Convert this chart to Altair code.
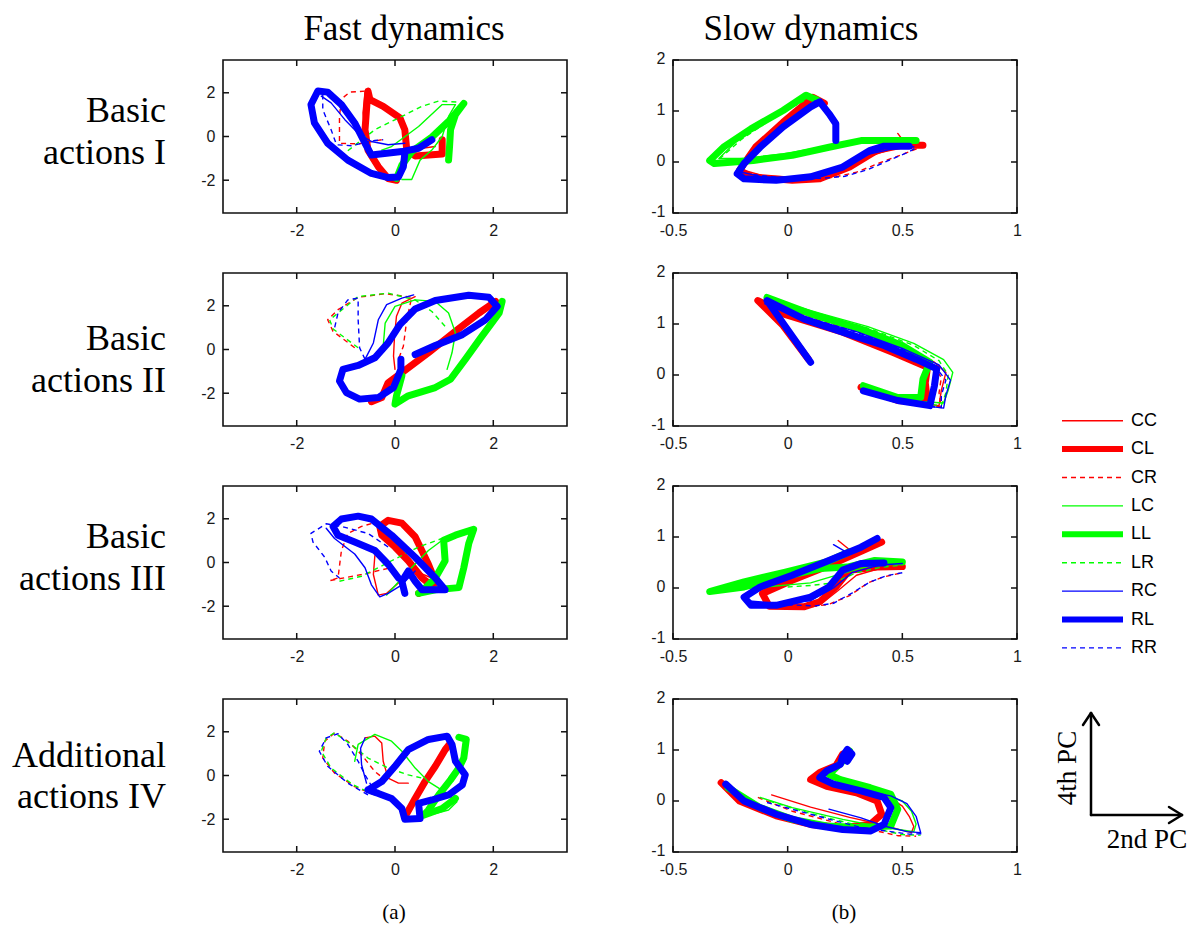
import altair as alt
import pandas as pd

SERIES = ["CC", "CL", "CR", "LC", "LL", "LR", "RC", "RL", "RR"]

# ---------------- Fast dynamics (2nd PC vs 4th PC) ----------------
f1_CC = [(-0.61, 2.03), (-0.65, 1.08), (-0.61, 0.0), (-0.48, -1.08), (-0.24, -1.85), (0.0, -1.97), (0.14, -1.54), (0.27, -0.62), (0.82, -0.46)]
f1_CL = [(0.96, -0.15), (0.96, -0.80), (0.41, -0.89), (0.24, -0.62), (0.20, 0.31), (0.10, 0.85), (-0.24, 1.38), (-0.51, 1.69), (-0.55, 2.08), (-0.58, 1.23), (-0.61, 0.31), (-0.55, -0.62), (-0.34, -1.38), (-0.14, -1.92), (0.03, -2.0)]
f1_CR = [(-0.27, -0.15), (-0.75, -0.34), (-1.13, -0.31), (-1.13, 0.92), (-1.09, 1.72), (-0.92, 2.03), (-0.58, 2.08)]
f1_LC = [(0.14, -1.97), (0.34, -1.97), (0.51, -1.08), (0.75, -0.62), (0.96, 0.0), (1.09, 0.92), (1.23, 1.46), (0.96, 1.46), (0.48, 0.46), (-0.07, -0.46), (-0.27, -0.62)]
f1_LL = [(0.03, -1.92), (0.14, -1.31), (0.34, -0.69), (0.75, -0.03), (1.09, 0.69), (1.40, 1.51), (1.23, 1.0), (1.13, 0.31), (1.11, -0.46), (1.09, -1.08)]
f1_LR = [(-0.96, -0.65), (-0.41, 0.31), (0.14, 0.92), (0.55, 1.38), (0.89, 1.62), (1.30, 1.57)]
f1_RC = [(-1.50, 1.85), (-1.30, 1.54), (-1.02, 0.77), (-0.75, 0.15), (-0.48, -0.23), (-0.14, -0.38), (0.20, -0.31)]
f1_RL = [(0.75, -0.15), (0.48, -0.54), (0.14, -0.69), (-0.48, -0.85), (-0.61, -0.31), (-0.82, 0.62), (-1.09, 1.46), (-1.37, 2.03), (-1.57, 2.08), (-1.71, 1.46), (-1.64, 0.62), (-1.37, -0.31), (-0.96, -1.08), (-0.48, -1.69), (-0.14, -1.88), (0.07, -1.85), (0.17, -1.38), (0.20, -0.77)]
f1_RR = [(-1.47, 1.92), (-1.47, 1.23), (-1.30, 0.31), (-1.19, -0.38), (-0.89, -0.42), (-0.41, -0.18), (-0.24, -0.15)]

f2_CC = [(0.41, 2.42), (0.14, 2.12), (0.03, 1.52), (-0.01, 0.61), (-0.03, -0.30), (0.0, -0.91)]
f2_CL = [(-0.48, -2.39), (-0.27, -2.2), (-0.14, -1.52), (0.14, -1.06), (0.68, -0.15), (1.23, 0.83), (1.71, 1.67), (2.05, 2.2)]
f2_CR = [(-0.82, 0.08), (-1.26, 0.83), (-1.37, 1.36), (-1.16, 1.82), (-0.75, 2.39), (-0.20, 2.55), (0.34, 2.39), (0.24, 1.36), (0.17, 0.15), (0.07, -0.45)]
f2_LC = [(-0.24, 0.15), (-0.20, 1.21), (0.0, 1.97), (0.41, 2.27), (0.82, 2.2), (1.09, 1.67), (1.23, 0.76), (1.16, -0.15), (1.06, -0.91)]
f2_LL = [(0.14, -1.21), (0.03, -2.12), (0.0, -2.5), (0.27, -2.12), (0.82, -1.74), (1.13, -1.36), (1.43, -0.45), (1.77, 0.61), (2.12, 1.67), (2.18, 2.2)]
f2_LR = [(-0.75, 0.08), (-1.26, 0.94), (-1.33, 1.36), (-0.75, 2.42), (-0.14, 2.58), (0.41, 2.27), (0.75, 1.74), (1.02, 1.06)]
f2_RC = [(-0.61, -0.45), (-0.44, 0.30), (-0.34, 1.36), (-0.17, 2.05), (0.14, 2.35), (0.38, 2.5)]
f2_RL = [(0.41, -0.23), (0.82, 0.18), (1.37, 0.68), (1.84, 1.36), (2.08, 1.97), (1.91, 2.39), (1.50, 2.48), (0.82, 2.24), (0.41, 1.85), (0.10, 1.14), (-0.14, 0.30), (-0.41, -0.38), (-0.75, -0.73), (-1.06, -0.91), (-1.13, -1.44), (-0.99, -1.97), (-0.72, -2.27), (-0.34, -2.20), (-0.03, -1.74), (0.12, -0.91), (0.12, -0.45)]
f2_RR = [(-0.61, -0.45), (-0.72, 0.08), (-0.75, 1.36), (-0.75, 2.35), (-0.96, 2.27), (-1.16, 1.67), (-1.23, 0.98)]

f3_CC = [(-0.41, 0.31), (-0.44, -0.55), (-0.34, -1.49), (-0.17, -1.41), (0.07, -0.94), (0.41, -0.39), (0.75, -0.71)]
f3_CL = [(0.48, -1.41), (0.82, -0.86), (0.68, -0.08), (0.41, 1.18), (0.14, 1.80), (-0.14, 1.93), (-0.31, 1.65), (-0.27, 1.25), (0.0, 0.71), (0.27, 0.08), (0.55, -0.71), (0.82, -1.18)]
f3_CR = [(-0.14, -0.27), (-0.68, -0.55), (-1.33, -0.83), (-1.16, -0.71), (-1.09, 0.55), (-0.96, 1.33), (-0.68, 1.65), (-0.48, 1.78)]
f3_LC = [(-0.17, -1.49), (0.27, -0.39), (0.68, 0.55), (0.96, 1.02), (1.23, 1.33)]
f3_LL = [(0.48, -1.41), (0.82, -1.25), (1.30, -1.15), (1.40, -0.24), (1.50, 0.86), (1.60, 1.52), (1.23, 1.25), (0.99, 1.02), (1.02, 0.08), (0.82, -0.71), (0.61, -1.18)]
f3_LR = [(-1.13, -0.86), (-0.68, -0.63), (-0.07, 0.08), (0.48, 0.71), (0.96, 1.10), (1.37, 1.33)]
f3_RC = [(-1.40, 1.57), (-1.23, 1.10), (-0.82, 0.39), (-0.61, -0.24), (-0.48, -1.02), (-0.31, -1.57), (-0.14, -1.41), (0.14, -1.02), (0.41, -0.39)]
f3_RL = [(0.2, -1.41), (0.14, -0.86), (0.27, -0.39), (0.41, -0.86), (0.55, -1.25), (1.02, -1.25), (0.82, -0.71), (0.41, 0.24), (-0.07, 1.25), (-0.48, 1.99), (-0.75, 2.12), (-1.09, 1.99), (-1.26, 1.65), (-1.16, 1.25), (-0.82, 0.94), (-0.41, 0.55), (-0.14, -0.08), (0.07, -0.71)]
f3_RR = [(-0.14, 0.71), (-0.55, 1.33), (-1.09, 1.65), (-1.40, 1.77), (-1.71, 1.33), (-1.67, 0.94), (-1.43, 0.24), (-1.30, -0.39), (-1.13, -0.71)]

f4_CC = [(-0.61, 1.72), (-0.41, 1.80), (-0.27, 1.49), (-0.24, 0.65), (-0.14, -0.12), (0.07, -0.35), (0.27, -0.35)]
f4_CL = [(0.24, -1.74), (0.41, -1.05), (0.61, -0.28), (0.82, 0.42), (1.02, 1.18), (1.13, 1.49)]
f4_CR = [(-0.41, -0.89), (-0.82, -0.51), (-1.23, 0.11), (-1.47, 0.80), (-1.43, 1.57), (-1.23, 1.95), (-0.96, 1.57), (-0.68, 0.95), (-0.41, 0.18), (-0.24, -0.12)]
f4_LC = [(-0.82, 0.65), (-0.75, 1.42), (-0.41, 1.88), (-0.07, 1.57), (0.14, 1.11), (0.41, 0.34), (0.68, -0.28), (0.89, -0.58), (1.09, -0.89), (1.26, -1.20), (1.09, -1.58), (0.82, -1.74), (0.68, -1.6)]
f4_LL = [(1.30, 1.75), (1.45, 1.65), (1.40, 0.80), (1.30, 0.34), (1.13, -0.20), (0.89, -0.89), (0.68, -1.58), (0.58, -1.82), (0.96, -1.51), (1.23, -1.05)]
f4_LR = [(-0.41, -0.89), (-0.85, -0.43), (-1.30, 0.34), (-1.50, 1.11), (-1.40, 1.72), (-1.23, 1.95), (-0.89, 1.42), (-0.55, 0.80), (-0.14, 0.34), (0.27, 0.03), (0.55, -0.12)]
f4_RC = [(-0.58, -0.35), (-0.68, 0.49), (-0.70, 1.25), (-0.61, 1.72)]
f4_RL = [(-0.55, -0.66), (-0.27, -0.28), (0.0, 0.42), (0.27, 1.18), (0.68, 1.65), (1.06, 1.80), (1.16, 1.42), (1.23, 0.65), (1.43, 0.03), (1.37, -0.43), (1.09, -0.89), (0.75, -1.12), (0.48, -1.28), (0.51, -1.97), (0.20, -2.0), (0.14, -1.51), (-0.07, -1.05), (-0.34, -0.82), (-0.55, -0.66)]
f4_RR = [(-0.55, -0.89), (-0.96, -0.35), (-1.37, 0.42), (-1.54, 1.11), (-1.40, 1.72), (-1.16, 1.91), (-0.96, 1.42), (-0.75, 0.65), (-0.61, 0.03), (-0.41, -0.74)]

# ---------------- Slow dynamics ----------------
s1_CC = [(0.10, 1.25), (0.0, 0.8), (-0.1, 0.35), (-0.18, 0.05), (-0.2, -0.15), (-0.1, -0.28), (0.05, -0.3), (0.2, -0.2), (0.35, 0.1), (0.45, 0.25), (0.52, 0.32), (0.48, 0.56)]
s1_CL = [(0.16, 1.15), (0.11, 1.27), (-0.02, 0.78), (-0.14, 0.29), (-0.21, -0.16), (-0.16, -0.29), (0.02, -0.36), (0.14, -0.33), (0.27, -0.10), (0.39, 0.23), (0.50, 0.33), (0.59, 0.33)]
s1_CR = [(-0.18, -0.2), (-0.05, -0.33), (0.1, -0.33), (0.2, -0.3), (0.3, -0.2), (0.4, -0.02), (0.5, 0.15), (0.57, 0.27)]
s1_LC = [(0.53, 0.44), (0.32, 0.44), (0.17, 0.31), (-0.02, 0.16), (-0.19, 0.07), (-0.30, 0.07), (-0.22, 0.42), (-0.08, 0.85), (0.07, 1.21)]
s1_LL = [(0.56, 0.42), (0.32, 0.42), (0.18, 0.29), (0.02, 0.13), (-0.15, 0.03), (-0.32, -0.03), (-0.34, 0.03), (-0.28, 0.29), (-0.16, 0.65), (-0.02, 1.01), (0.08, 1.31), (0.13, 1.21)]
s1_LR = [(0.55, 0.4), (0.35, 0.4), (0.2, 0.3), (0.05, 0.15), (-0.12, 0.06), (-0.28, 0.0), (-0.3, 0.05), (-0.2, 0.45), (-0.05, 0.9), (0.07, 1.2)]
s1_RC = [(0.55, 0.3), (0.45, 0.25), (0.35, 0.15), (0.2, -0.15), (0.05, -0.3), (-0.1, -0.3), (-0.2, -0.2), (-0.15, 0.2), (0.0, 0.75), (0.12, 1.2)]
s1_RL = [(0.21, 0.42), (0.21, 0.75), (0.18, 0.95), (0.14, 1.18), (0.10, 1.08), (-0.02, 0.69), (-0.12, 0.29), (-0.19, -0.03), (-0.22, -0.23), (-0.19, -0.33), (-0.05, -0.36), (0.10, -0.29), (0.24, -0.10), (0.36, 0.23), (0.42, 0.31), (0.53, 0.31)]
s1_RR = [(-0.15, -0.25), (0.0, -0.32), (0.15, -0.32), (0.25, -0.28), (0.35, -0.15), (0.45, 0.05), (0.53, 0.2), (0.56, 0.28)]

s2_CC = [(-0.1, 1.45), (0.1, 1.15), (0.3, 0.88), (0.5, 0.55), (0.64, 0.25), (0.69, 0.05), (0.67, -0.3), (0.66, -0.6), (0.55, -0.55), (0.4, -0.4)]
s2_CL = [(0.09, 0.31), (-0.02, 0.97), (-0.13, 1.46), (-0.02, 1.20), (0.24, 0.84), (0.46, 0.44), (0.61, 0.15), (0.60, -0.15), (0.61, -0.54), (0.48, -0.50), (0.32, -0.24)]
s2_CR = [(-0.1, 1.42), (0.1, 1.12), (0.3, 0.86), (0.5, 0.5), (0.63, 0.22), (0.67, -0.05), (0.66, -0.35), (0.67, -0.62), (0.5, -0.55), (0.38, -0.38)]
s2_LC = [(-0.08, 1.5), (0.15, 1.2), (0.35, 0.95), (0.55, 0.62), (0.68, 0.3), (0.72, 0.05), (0.7, -0.3), (0.68, -0.55), (0.5, -0.5), (0.35, -0.3)]
s2_LL = [(-0.09, 1.52), (0.10, 1.20), (0.32, 0.90), (0.50, 0.58), (0.62, 0.25), (0.59, -0.08), (0.58, -0.44), (0.48, -0.44), (0.33, -0.21)]
s2_LR = [(-0.08, 1.48), (0.15, 1.17), (0.35, 0.92), (0.55, 0.58), (0.66, 0.28), (0.7, 0.0), (0.69, -0.35), (0.67, -0.6), (0.5, -0.52), (0.35, -0.33)]
s2_RC = [(-0.1, 1.4), (0.1, 1.1), (0.3, 0.85), (0.5, 0.52), (0.66, 0.2), (0.71, -0.1), (0.69, -0.4), (0.68, -0.65), (0.5, -0.55), (0.35, -0.35)]
s2_RL = [(0.10, 0.25), (-0.09, 1.46), (0.07, 1.10), (0.24, 0.84), (0.42, 0.58), (0.56, 0.31), (0.65, 0.12), (0.64, -0.21), (0.62, -0.60), (0.48, -0.50), (0.33, -0.31)]
s2_RR = [(-0.1, 1.4), (0.1, 1.1), (0.3, 0.84), (0.5, 0.5), (0.64, 0.18), (0.69, -0.1), (0.67, -0.4), (0.67, -0.64), (0.5, -0.56), (0.35, -0.36)]

s3_CC = [(0.22, 0.93), (0.27, 0.75), (0.25, 0.62), (0.15, 0.45), (0.0, 0.2), (-0.12, -0.05), (-0.1, -0.3), (0.05, -0.35), (0.15, -0.3), (0.22, -0.05), (0.3, 0.25), (0.4, 0.38), (0.5, 0.4)]
s3_CL = [(0.41, 0.90), (0.33, 0.74), (0.18, 0.44), (0.02, 0.15), (-0.11, -0.11), (-0.08, -0.36), (0.07, -0.37), (0.14, -0.27), (0.21, 0.02), (0.27, 0.35), (0.39, 0.41), (0.50, 0.42)]
s3_CR = [(-0.05, -0.35), (0.1, -0.37), (0.18, -0.32), (0.27, -0.15), (0.35, 0.1), (0.42, 0.22), (0.5, 0.3)]
s3_LC = [(0.25, 0.7), (0.1, 0.45), (-0.1, 0.2), (-0.3, -0.05), (-0.1, 0.02), (0.1, 0.1), (0.25, 0.3), (0.35, 0.42), (0.5, 0.48)]
s3_LL = [(0.50, 0.51), (0.38, 0.54), (0.26, 0.41), (0.14, 0.38), (-0.02, 0.22), (-0.19, 0.02), (-0.34, -0.07), (-0.19, 0.12), (-0.01, 0.31), (0.17, 0.51), (0.27, 0.71)]
s3_LR = [(0.0, 0.02), (0.1, 0.05), (0.2, 0.1), (0.3, 0.3), (0.4, 0.4), (0.5, 0.45)]
s3_RC = [(0.2, 0.85), (0.25, 0.72), (0.15, 0.5), (0.0, 0.25), (-0.15, 0.0), (-0.18, -0.25), (-0.05, -0.3), (0.1, -0.25), (0.2, 0.0), (0.28, 0.3), (0.4, 0.45), (0.5, 0.48)]
s3_RL = [(0.39, 0.97), (0.32, 0.80), (0.18, 0.54), (0.02, 0.25), (-0.12, 0.02), (-0.19, -0.18), (-0.16, -0.34), (-0.05, -0.34), (0.10, -0.18), (0.18, 0.02), (0.24, 0.35), (0.32, 0.48), (0.42, 0.49)]
s3_RR = [(0.0, -0.33), (0.12, -0.35), (0.2, -0.3), (0.28, -0.1), (0.36, 0.12), (0.43, 0.24), (0.5, 0.3)]

s4_CC = [(-0.07, 0.12), (0.1, -0.12), (0.27, -0.32), (0.4, -0.45), (0.48, -0.55), (0.54, -0.62), (0.55, -0.5), (0.53, -0.3), (0.5, -0.1), (0.45, 0.05), (0.35, 0.15)]
s4_CL = [(-0.29, 0.36), (-0.21, 0.0), (-0.05, -0.29), (0.10, -0.46), (0.24, -0.52), (0.36, -0.46), (0.41, -0.26), (0.39, 0.0), (0.30, 0.16), (0.17, 0.29), (0.10, 0.42), (0.14, 0.56), (0.21, 0.69), (0.24, 0.92)]
s4_CR = [(-0.13, 0.07), (0.02, -0.2), (0.24, -0.46), (0.39, -0.59), (0.48, -0.68), (0.56, -0.69)]
s4_LC = [(-0.12, 0.07), (0.02, -0.13), (0.24, -0.36), (0.42, -0.52), (0.55, -0.6), (0.56, -0.45), (0.54, -0.2), (0.5, 0.0), (0.42, 0.12), (0.3, 0.22)]
s4_LL = [(-0.26, 0.26), (-0.12, -0.13), (0.02, -0.36), (0.17, -0.49), (0.31, -0.52), (0.45, -0.49), (0.48, -0.16), (0.45, 0.13), (0.36, 0.26), (0.23, 0.42), (0.18, 0.52), (0.24, 0.78), (0.27, 0.98)]
s4_LR = [(-0.08, 0.0), (0.08, -0.22), (0.28, -0.45), (0.42, -0.58), (0.5, -0.66), (0.58, -0.67)]
s4_RC = [(0.18, -0.16), (0.32, -0.33), (0.42, -0.49), (0.52, -0.6), (0.58, -0.62), (0.56, -0.3), (0.52, -0.05), (0.45, 0.1), (0.35, 0.18), (0.23, 0.28)]
s4_RL = [(-0.27, 0.33), (-0.19, 0.0), (-0.05, -0.26), (0.10, -0.46), (0.24, -0.56), (0.36, -0.59), (0.42, -0.46), (0.45, -0.13), (0.42, 0.07), (0.32, 0.20), (0.20, 0.33), (0.14, 0.46), (0.17, 0.59), (0.23, 0.72), (0.24, 0.88), (0.26, 1.01), (0.28, 0.92), (0.26, 0.78)]
s4_RR = [(-0.09, -0.03), (0.1, -0.26), (0.32, -0.52), (0.45, -0.6), (0.53, -0.65), (0.59, -0.64)]

ROW_LABELS = [("Basic", "actions I"), ("Basic", "actions II"), ("Basic", "actions III"), ("Additional", "actions IV")]
COL_TITLES = ["Fast dynamics", "Slow dynamics"]
FAST_TICKS = [-2, 0, 2]
SLOW_XTICKS = [-0.5, 0, 0.5, 1]
SLOW_YTICKS = [-1, 0, 1, 2]


def bundle(*lists):
    return dict(zip(SERIES, lists))


FAST = [
    bundle(f1_CC, f1_CL, f1_CR, f1_LC, f1_LL, f1_LR, f1_RC, f1_RL, f1_RR),
    bundle(f2_CC, f2_CL, f2_CR, f2_LC, f2_LL, f2_LR, f2_RC, f2_RL, f2_RR),
    bundle(f3_CC, f3_CL, f3_CR, f3_LC, f3_LL, f3_LR, f3_RC, f3_RL, f3_RR),
    bundle(f4_CC, f4_CL, f4_CR, f4_LC, f4_LL, f4_LR, f4_RC, f4_RL, f4_RR),
]
SLOW = [
    bundle(s1_CC, s1_CL, s1_CR, s1_LC, s1_LL, s1_LR, s1_RC, s1_RL, s1_RR),
    bundle(s2_CC, s2_CL, s2_CR, s2_LC, s2_LL, s2_LR, s2_RC, s2_RL, s2_RR),
    bundle(s3_CC, s3_CL, s3_CR, s3_LC, s3_LL, s3_LR, s3_RC, s3_RL, s3_RR),
    bundle(s4_CC, s4_CL, s4_CR, s4_LC, s4_LL, s4_LR, s4_RC, s4_RL, s4_RR),
]

HUE = {"C": "#ff0000", "L": "#00ff00", "R": "#0000ff"}
W, H = 344, 153
SERIF = "Liberation Serif"
SANS = "Liberation Sans"
INK = "#111111"


def style(s, legend=False):
    kw = dict(color=HUE[s[0]], strokeCap="round", strokeJoin="round")
    if s[1] == "L":
        kw["strokeWidth"] = 6 if legend else 7
    else:
        kw["strokeWidth"] = 1.4
    if s[1] == "R":
        kw["strokeDash"] = [5, 4]
        kw["strokeCap"] = "butt"
    if legend:
        kw["strokeCap"] = "butt"
    return kw


def text_layer(txt, x, y, size, font=SERIF, align="center", baseline="alphabetic", angle=0):
    kw = dict(font=font, fontSize=size, align=align, baseline=baseline, color="#000000")
    if angle:
        kw["angle"] = angle
    return alt.Chart(pd.DataFrame({"t": [txt]})).mark_text(**kw).encode(
        text="t:N", x=alt.value(x), y=alt.value(y))


def seg(x1, y1, x2, y2, width=2.5, opacity=1.0):
    return alt.Chart(pd.DataFrame({"k": [0]})).mark_rule(
        color="#000000", strokeWidth=width, opacity=opacity, strokeCap="round").encode(
        x=alt.value(x1), y=alt.value(y1), x2=alt.value(x2), y2=alt.value(y2))


def panel(data, kind, row):
    if kind == "fast":
        xdom, ydom, xt, yt = [-3.5, 3.5], [-3.5, 3.5], FAST_TICKS, FAST_TICKS
    else:
        xdom, ydom, xt, yt = [-0.5, 1.0], [-1.0, 2.0], SLOW_XTICKS, SLOW_YTICKS
    xsc = alt.Scale(domain=xdom, nice=False, zero=False)
    ysc = alt.Scale(domain=ydom, nice=False, zero=False)
    common = dict(title=None, domain=False, ticks=False, grid=False, labelFont=SANS,
                  labelFontSize=16, labelColor="#1a1a1a",
                  labelFlush=False, labelOverlap=False, labelBound=False,
                  labelExpr="datum.value + ''")
    xax = alt.Axis(values=xt, labelPadding=9, **common)
    yax = alt.Axis(values=yt, labelPadding=8, labelOffset=-2 if kind == "slow" else 0, **common)

    rows = []
    for s in SERIES:
        for i, (x, y) in enumerate(data[s]):
            rows.append({"series": s, "i": i, "x": x, "y": y})
    df = pd.DataFrame(rows)
    base = alt.Chart(df)
    layers = []
    for s in SERIES:
        layers.append(
            base.transform_filter(alt.datum.series == s).mark_line(**style(s)).encode(
                x=alt.X("x:Q", scale=xsc, axis=xax),
                y=alt.Y("y:Q", scale=ysc, axis=yax),
                order="i:Q",
            )
        )
    # inward tick marks (MATLAB style box)
    tx = alt.Chart(pd.DataFrame({"v": xt}))
    ty = alt.Chart(pd.DataFrame({"v": yt}))
    tick = dict(color=INK, strokeWidth=1.5)
    layers.append(tx.mark_rule(**tick).encode(x=alt.X("v:Q", scale=xsc, axis=xax), y=alt.value(0), y2=alt.value(6)))
    layers.append(tx.mark_rule(**tick).encode(x=alt.X("v:Q", scale=xsc, axis=xax), y=alt.value(H - 6), y2=alt.value(H)))
    layers.append(ty.mark_rule(**tick).encode(y=alt.Y("v:Q", scale=ysc, axis=yax), x=alt.value(0), x2=alt.value(6)))
    layers.append(ty.mark_rule(**tick).encode(y=alt.Y("v:Q", scale=ysc, axis=yax), x=alt.value(W - 6), x2=alt.value(W)))

    if kind == "fast":
        label_y = [(62, 104), (77, 119), (62, 104), (68, 109)][row]
        l1, l2 = ROW_LABELS[row]
        layers.append(text_layer(l1, -57, label_y[0], 36, align="right"))
        layers.append(text_layer(l2, -57, label_y[1], 36, align="right"))
        if row == 0:
            layers.append(text_layer(COL_TITLES[0], 181, -20, 35))
            # invisible anchor fixing the page offset of the grid
            layers.append(seg(-222, -59, -221, -58, width=1, opacity=0))
        if row == 3:
            layers.append(text_layer("(a)", 171, 220, 21))
    else:
        if row == 0:
            layers.append(text_layer(COL_TITLES[1], 138, -20, 35))
        if row == 1:
            for k, s in enumerate(SERIES):
                yy = 147.7 + 28.4 * k
                layers.append(
                    alt.Chart(pd.DataFrame({"series": [s]})).mark_rule(**style(s, legend=True)).encode(
                        x=alt.value(389), x2=alt.value(450), y=alt.value(yy)))
                layers.append(text_layer(s, 458, yy, 18, font=SANS, align="left", baseline="middle"))
        if row == 3:
            layers.append(seg(418, 116, 418, 14))
            layers.append(seg(418, 116, 509, 116))
            layers.append(seg(418, 14, 410, 26))
            layers.append(seg(418, 14, 426, 26))
            layers.append(seg(509, 116, 496, 108))
            layers.append(seg(509, 116, 496, 124))
            layers.append(text_layer("4th  PC", 403, 69, 27, angle=270))
            layers.append(text_layer("2nd PC", 474, 149, 27))
            layers.append(text_layer("(b)", 171, 220, 21))

    return alt.layer(*layers).properties(width=W, height=H)


panels = []
for r in range(4):
    panels.append(panel(FAST[r], "fast", r))
    panels.append(panel(SLOW[r], "slow", r))

chart = alt.concat(
    *panels, columns=2, spacing={"row": 60, "column": 106}, bounds="flush"
).properties(padding=0, background="#ffffff").configure_view(
    stroke=INK, strokeWidth=1.6
)

chart.save("out.html", embed_options={"renderer": "svg", "actions": False})
